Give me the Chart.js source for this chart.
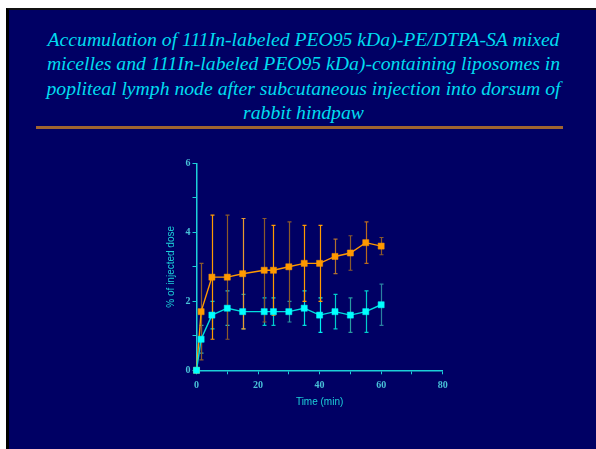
<!DOCTYPE html>
<html>
<head>
<meta charset="utf-8">
<script src="https://cdn.jsdelivr.net/npm/chart.js@4"></script>
<style>
  body { margin: 0; background: #fff; width: 596px; height: 449px; overflow: hidden; position: relative; }
  #slide { position: absolute; left: 6px; top: 8px; width: 590px; height: 441px; background: #000064;
           border-left: 3px solid #000; border-top: 2px solid #111; box-sizing: border-box; }
  #title { position: absolute; left: 0; top: 27px; width: 607px; text-align: center;
           font-family: "Liberation Serif", "Times New Roman", serif; font-style: italic;
           font-size: 19.7px; line-height: 24.3px; color: #00dcf0; white-space: nowrap; }
  #rule { position: absolute; left: 36px; top: 125.5px; width: 527px; height: 3px; background: #a06430; }
  #chart { position: absolute; left: 0; top: 0; }
</style>
</head>
<body>
<div id="slide"></div>
<div id="title">Accumulation of 111In-labeled PEO95 kDa)-PE/DTPA-SA mixed<br>micelles and 111In-labeled PEO95 kDa)-containing liposomes in<br>popliteal lymph node after subcutaneous injection into dorsum of<br>rabbit hindpaw</div>
<div id="rule"></div>
<canvas id="chart" width="596" height="449"></canvas>
<script>
// data
var times = [0, 1.5, 5, 10, 15, 22, 25, 30, 35, 40, 45, 50, 55, 60];
var liposomes = [0, 1.7, 2.7, 2.7, 2.8, 2.9, 2.9, 3.0, 3.1, 3.1, 3.3, 3.4, 3.7, 3.6];
var liposomesErr = [0, 1.4, 1.8, 1.8, 1.6, 1.5, 1.3, 1.3, 1.1, 1.1, 0.5, 0.5, 0.6, 0.25];
var micelles = [0, 0.9, 1.6, 1.8, 1.7, 1.7, 1.7, 1.7, 1.8, 1.6, 1.7, 1.6, 1.7, 1.9];
var micellesErr = [0, 0.4, 0.4, 0.5, 0.5, 0.4, 0.4, 0.3, 0.5, 0.5, 0.5, 0.5, 0.6, 0.6];
var xTicks = [0, 20, 40, 60, 80];
var yTicks = [0, 2, 4, 6];

// error bar colours vary a bit on the slide
var orangeBarColors = ['#ff9900', '#8b5a2b', '#ff9900', '#8b5a2b', '#e89a30', '#8b5a2b', '#ff9900',
                       '#8b5a2b', '#ff9900', '#ff9900', '#b07030', '#8b5a2b', '#b86a20', '#8b5a2b'];
var cyanBarColors = ['#00cccc', '#33aaaa', '#00cccc', '#33bbbb', '#2a9aa0', '#00cccc', '#00cccc',
                     '#2a9aa0', '#00dddd', '#00eeee', '#00cccc', '#2a9aa0', '#00cccc', '#2a80a0'];

var axisColor = '#1ccfd8';
var tickColor = '#48c0d8';

function toPoints(vals) {
    return times.map(function (t, i) { return {x: t, y: vals[i]}; });
}

const errorBars = {
    id: 'errorBars',
    beforeDatasetsDraw(chart) {
        const ctx = chart.ctx;
        const xs = chart.scales.x, ys = chart.scales.y;
        ctx.save();
        ctx.lineWidth = 1.2;
        chart.data.datasets.forEach(function (ds) {
            ds.data.forEach(function (p, j) {
                var e = ds.errors[j];
                if (!e) return;
                var px = Math.round(xs.getPixelForValue(p.x)) + 0.5;
                var top = ys.getPixelForValue(p.y + e);
                var bot = ys.getPixelForValue(p.y - e);
                ctx.strokeStyle = ds.errColors[j];
                ctx.beginPath();
                ctx.moveTo(px, top); ctx.lineTo(px, bot);
                ctx.moveTo(px - 2, top); ctx.lineTo(px + 2, top);
                ctx.moveTo(px - 2, bot); ctx.lineTo(px + 2, bot);
                ctx.stroke();
            });
        });
        ctx.restore();
    }
};

const tickFont = {family: '"Liberation Serif", "Times New Roman", serif', size: 10, weight: 'bold'};
const titleFont = {family: '"Liberation Sans", Arial, sans-serif', size: 10};

new Chart(document.getElementById('chart').getContext('2d'), {
    type: 'line',
    data: {
        datasets: [
            {
                label: 'micelles',
                data: toPoints(micelles),
                errors: micellesErr,
                errColors: cyanBarColors,
                borderColor: '#00dede',
                backgroundColor: '#00ffff',
                borderWidth: 1.4,
                pointStyle: 'rect',
                pointRadius: 4.3,
                pointBorderWidth: 0.5,
                pointBorderColor: '#00ffff',
                tension: 0,
                clip: false
            },
            {
                label: 'liposomes',
                data: toPoints(liposomes),
                errors: liposomesErr,
                errColors: orangeBarColors,
                borderColor: '#ff9900',
                backgroundColor: '#ff9900',
                borderWidth: 1.4,
                pointStyle: 'rect',
                pointRadius: 4.3,
                pointBorderWidth: 0.5,
                pointBorderColor: '#ff9900',
                tension: 0,
                clip: false
            }
        ]
    },
    options: {
        responsive: false,
        animation: false,
        layout: {padding: {left: 156.5, right: 153.3, top: 163.3, bottom: 38.7}},
        plugins: {legend: {display: false}, tooltip: {enabled: false}},
        scales: {
            x: {
                type: 'linear',
                min: 0,
                max: 80,
                afterFit: function (s) { s.height = 40; },
                ticks: {
                    stepSize: 10,
                    autoSkip: false,
                    maxRotation: 0,
                    padding: 5,
                    color: tickColor,
                    font: tickFont,
                    callback: function (v) { return xTicks.indexOf(v) >= 0 ? v : ''; }
                },
                grid: {drawOnChartArea: false, drawTicks: true, tickLength: 4, color: axisColor},
                border: {color: axisColor, width: 1.5},
                title: {display: true, text: 'Time (min)', color: axisColor, font: titleFont,
                        padding: {top: 0, bottom: 2.5}}
            },
            y: {
                min: 0,
                max: 6,
                afterFit: function (s) { s.width = 40; },
                ticks: {
                    stepSize: 1,
                    padding: 2,
                    color: tickColor,
                    font: tickFont,
                    callback: function (v) { return yTicks.indexOf(v) >= 0 ? v : ''; }
                },
                grid: {drawOnChartArea: false, drawTicks: true, tickLength: 4, color: axisColor},
                border: {color: axisColor, width: 1.5},
                title: {display: true, text: '% of injected dose', color: axisColor, font: titleFont,
                        padding: {top: 8.5, bottom: 0}}
            }
        }
    },
    plugins: [errorBars]
});
</script>
</body>
</html>
